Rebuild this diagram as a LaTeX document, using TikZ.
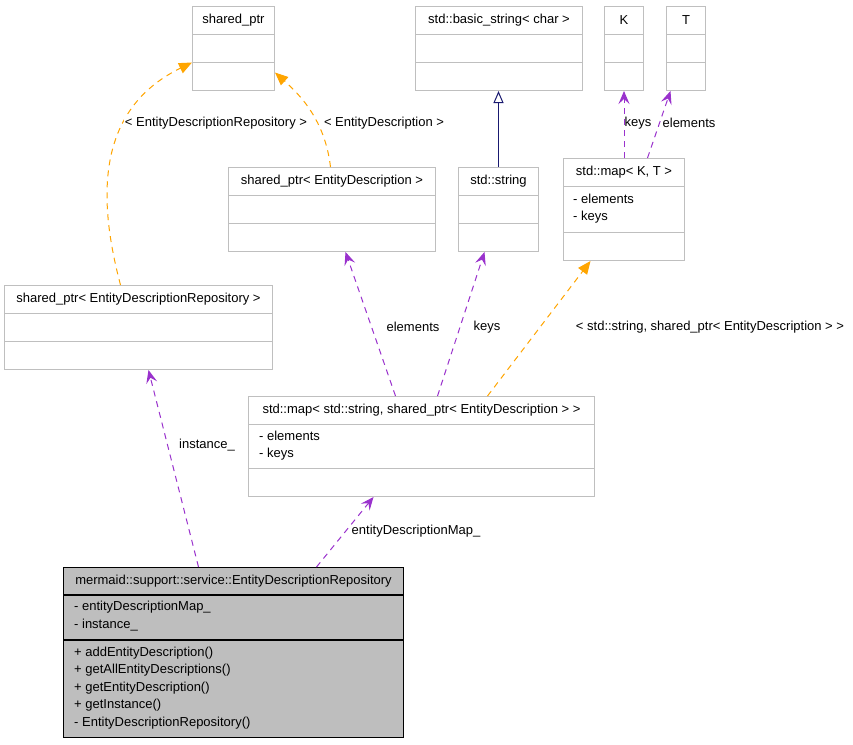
\documentclass[tikz,border=0pt]{standalone}
\usepackage{fontspec}
\setmainfont{Liberation Sans}
\usetikzlibrary{arrows.meta,calc,positioning}
\definecolor{umlgray}{RGB}{191,191,191}
\definecolor{umlfill}{RGB}{190,190,190}
\definecolor{umlpurple}{RGB}{154,50,205}
\definecolor{umlorange}{RGB}{255,165,0}
\definecolor{umlnavy}{RGB}{25,25,112}
\tikzset{
 cls/.style={draw=umlgray,line width=1pt,fill=white,inner sep=0pt,anchor=north west},
 mainclass/.style={cls,draw=black,fill=umlfill},
 ttl/.style={inner sep=0pt},
 member/.style={inner sep=0pt,anchor=west},
 usedby/.style={-{Stealth[length=13pt,width=11pt,inset=5pt]},umlpurple,line width=1pt,dash pattern=on 6pt off 5pt},
 tmplof/.style={-{Triangle[length=13pt,width=11pt]},umlorange,line width=1pt,dash pattern=on 6pt off 5pt},
 inherits/.style={-{Triangle[open,length=12pt,width=10pt]},umlnavy,line width=1pt}
}

\begin{document}
\begin{tikzpicture}[x=1pt,y=-1pt,font=\fontsize{13}{15}\selectfont]
 \fill[white] (0,0) rectangle (853,744);
 \useasboundingbox (0,0) rectangle (853,744);

 \node[cls,minimum width=82pt,minimum height=84pt] (sharedptr) at (192,6) {};
 \node[cls,minimum width=167pt,minimum height=84pt] (basicstr) at (415,6) {};
 \node[cls,minimum width=39pt,minimum height=84pt] (tplK) at (604,6) {};
 \node[cls,minimum width=39pt,minimum height=84pt] (tplT) at (666,6) {};
 \node[cls,minimum width=207pt,minimum height=84pt] (sptrdesc) at (228,167) {};
 \node[cls,minimum width=80pt,minimum height=84pt] (stdstr) at (458,167) {};
 \node[cls,minimum width=121pt,minimum height=102pt] (mapKT) at (563,158) {};
 \node[cls,minimum width=268pt,minimum height=84pt] (sptrrepo) at (4,285) {};
 \node[cls,minimum width=346pt,minimum height=100pt] (mapdesc) at (248,396) {};
 \node[mainclass,minimum width=340pt,minimum height=170pt] (repo) at (63,567) {};

 \foreach \n/\a/\b in {sharedptr/28/56,basicstr/28/56,tplK/28/56,tplT/28/56,
   sptrdesc/28/56,stdstr/28/56,mapKT/28/74,sptrrepo/28/56,mapdesc/28/72}{
  \draw[umlgray,line width=1pt] ([yshift=-\a pt]\n.north west) -- ([yshift=-\a pt]\n.north east);
  \draw[umlgray,line width=1pt] ([yshift=-\b pt]\n.north west) -- ([yshift=-\b pt]\n.north east);
 }
 \draw[line width=1.3pt] ([yshift=-28pt]repo.north west) -- ([yshift=-28pt]repo.north east);
 \draw[line width=1.3pt] ([yshift=-73pt]repo.north west) -- ([yshift=-73pt]repo.north east);

 \node[ttl] (sharedptr-t) at ([yshift=-14pt]sharedptr.north) {shared\_ptr};
 \node[ttl] (basicstr-t) at ([yshift=-14pt]basicstr.north) {std::basic\_string< char >};
 \node[ttl] (tplK-t) at ([yshift=-14pt]tplK.north) {K};
 \node[ttl] (tplT-t) at ([yshift=-14pt]tplT.north) {T};
 \node[ttl] (sptrdesc-t) at ([yshift=-14pt]sptrdesc.north) {shared\_ptr< EntityDescription >};
 \node[ttl] (stdstr-t) at ([yshift=-14pt]stdstr.north) {std::string};
 \node[ttl] (mapKT-t) at ([yshift=-14pt]mapKT.north) {std::map< K, T >};
 \node[ttl] (sptrrepo-t) at ([yshift=-14pt]sptrrepo.north) {shared\_ptr< EntityDescriptionRepository >};
 \node[ttl] (mapdesc-t) at ([yshift=-14pt]mapdesc.north) {std::map< std::string, shared\_ptr< EntityDescription > >};
 \node[ttl] (repo-t) at ([yshift=-14pt]repo.north) {mermaid::support::service::EntityDescriptionRepository};

 \node[member] (mapKT-a1) at ([xshift=10pt,yshift=-41pt]mapKT.north west) {- elements};
 \node[member] (mapKT-a2) at ([xshift=10pt,yshift=-59pt]mapKT.north west) {- keys};
 \node[member] (mapdesc-a1) at ([xshift=11pt,yshift=-40pt]mapdesc.north west) {- elements};
 \node[member] (mapdesc-a2) at ([xshift=11pt,yshift=-58pt]mapdesc.north west) {- keys};
 \node[member] (repo-a1) at ([xshift=11pt,yshift=-40pt]repo.north west) {- entityDescriptionMap\_};
 \node[member] (repo-a2) at ([xshift=11pt,yshift=-58pt]repo.north west) {- instance\_};
 \node[member] (repo-m1) at ([xshift=11pt,yshift=-86pt]repo.north west) {+ addEntityDescription()};
 \node[member] (repo-m2) at ([xshift=11pt,yshift=-103pt]repo.north west) {+ getAllEntityDescriptions()};
 \node[member] (repo-m3) at ([xshift=11pt,yshift=-121pt]repo.north west) {+ getEntityDescription()};
 \node[member] (repo-m4) at ([xshift=11pt,yshift=-138pt]repo.north west) {+ getInstance()};
 \node[member] (repo-m5) at ([xshift=11pt,yshift=-156pt]repo.north west) {- EntityDescriptionRepository()};

 \draw[tmplof] ([xshift=-18pt]sptrrepo.north)
  .. controls (98,200) and (95,110) .. ([yshift=-14pt]sharedptr.west);
 \draw[tmplof] ([xshift=-1.5pt]sptrdesc.north)
  .. controls (325,120) and (300,95) .. ([yshift=-24pt]sharedptr.east);
 \draw[inherits] (stdstr.north) -- (stdstr.north |- basicstr.south);
 \draw[usedby] (mapKT.north) -- (mapKT.north |- tplK.south);
 \draw[usedby] ([xshift=23.5pt]mapKT.north) -- ([xshift=-15.5pt]tplT.south);
 \draw[usedby] ([xshift=-26pt]mapdesc.north) -- ([xshift=13.5pt]sptrdesc.south);
 \draw[usedby] ([xshift=16pt]mapdesc.north) -- ([xshift=-14pt]stdstr.south);
 \draw[tmplof] ([xshift=66pt]mapdesc.north) -- ([xshift=-33.5pt]mapKT.south);
 \draw[usedby] ([xshift=-35pt]repo.north) -- ([xshift=10pt]sptrrepo.south);
 \draw[usedby] ([xshift=83pt]repo.north) -- ([xshift=-48pt]mapdesc.south);

 \node[ttl,fill=white,inner xsep=1pt] (lbl-repo) at (216,123) {< EntityDescriptionRepository >};
 \node[ttl,fill=white,inner xsep=1pt] (lbl-desc) at (384,123) {< EntityDescription >};
 \node[ttl] (lbl-keysK) at (638,123) {keys};
 \node[ttl] (lbl-elemT) at (689,123) {elements};
 \node[ttl] (lbl-elem) at (413,327) {elements};
 \node[ttl] (lbl-keys) at (487,327) {keys};
 \node[ttl] (lbl-map) at (710,327) {< std::string, shared\_ptr< EntityDescription > >};
 \node[ttl] (lbl-inst) at (207,445) {instance\_};
 \node[ttl] (lbl-descmap) at (416,531) {entityDescriptionMap\_};
\end{tikzpicture}
\end{document}
